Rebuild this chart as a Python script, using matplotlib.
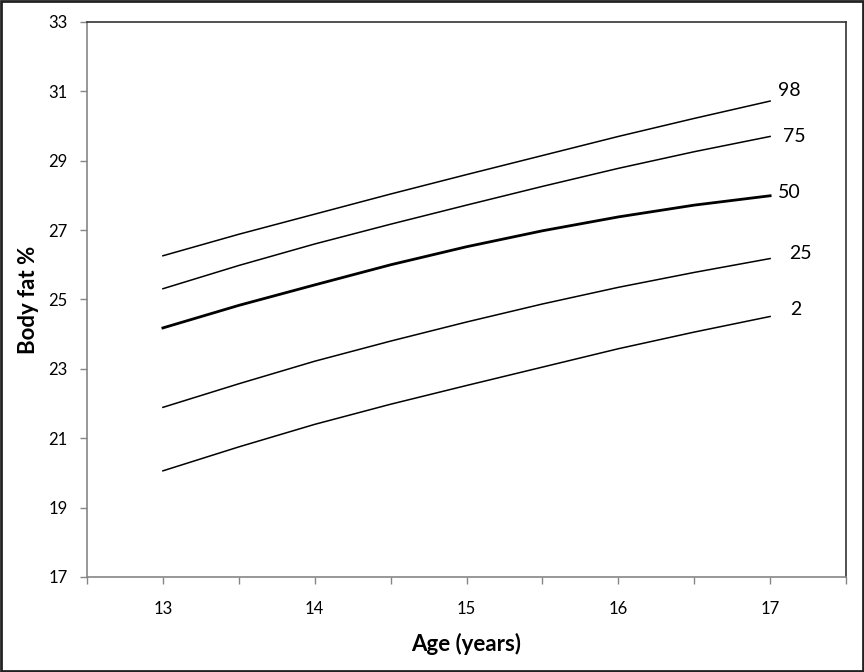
"""
Body fat % centile curves by age (2nd, 25th, 50th, 75th, 98th).
"""

import matplotlib
matplotlib.use("Agg")
import matplotlib.pyplot as plt
from matplotlib.patches import Rectangle

plt.rcParams["font.family"] = ["Lato", "DejaVu Sans"]

# ages (years) and centile curves (body fat %)
ages = [13, 13.5, 14, 14.5, 15, 15.5, 16, 16.5, 17]
p98 = [26.26, 26.88, 27.46, 28.04, 28.60, 29.15, 29.70, 30.22, 30.72]
p75 = [25.31, 25.98, 26.60, 27.17, 27.72, 28.26, 28.78, 29.26, 29.70]
p50 = [24.18, 24.83, 25.42, 26.00, 26.52, 26.98, 27.38, 27.72, 27.99]
p25 = [21.89, 22.57, 23.22, 23.80, 24.35, 24.87, 25.35, 25.78, 26.18]
p2 = [20.06, 20.75, 21.40, 21.98, 22.52, 23.05, 23.58, 24.06, 24.51]

centile_names = ["98", "75", "50", "25", "2"]
x_ticklabels = ["13", "14", "15", "16", "17"]
y_ticks = [17, 19, 21, 23, 25, 27, 29, 31, 33]


def main() -> None:
    fig = plt.figure(figsize=(8.64, 6.72), dpi=100)
    ax = fig.add_axes([0.1007, 0.1414, 0.8785, 0.8259])

    curves = [p98, p75, p50, p25, p2]
    widths = [1.1, 1.1, 2.0, 1.1, 1.1]
    # label offsets from curve end, in pixels
    offsets = [(8, 11), (13, 0), (8, 3), (19, 5), (20, 7)]
    for vals, name, lw, off in zip(curves, centile_names, widths, offsets):
        ax.plot(ages, vals, color="black", linewidth=lw)
        ax.annotate(name, xy=(ages[-1], vals[-1]), xytext=off,
                    textcoords="offset pixels", ha="left", va="center",
                    fontsize=14, color="black")

    ax.set_xlim(12.5, 17.5)
    ax.set_ylim(17, 33)
    ax.set_xticks([12.5, 13, 13.5, 14, 14.5, 15, 15.5, 16, 16.5, 17, 17.5])
    ax.set_xticklabels(["", x_ticklabels[0], "", x_ticklabels[1], "",
                        x_ticklabels[2], "", x_ticklabels[3], "",
                        x_ticklabels[4], ""])
    ax.set_yticks(y_ticks)
    ax.tick_params(axis="x", direction="out", length=5, width=1,
                   color="#868686", pad=12, labelsize=12)
    ax.tick_params(axis="y", direction="out", length=5, width=1,
                   color="#868686", pad=9, labelsize=12)

    for side in ["left", "bottom"]:
        ax.spines[side].set_color("#868686")
        ax.spines[side].set_linewidth(1.2)
    for side in ["top", "right"]:
        ax.spines[side].set_color("#333333")
        ax.spines[side].set_linewidth(1.2)

    ax.set_xlabel("Age (years)", fontsize=16, fontweight="bold", labelpad=12)
    ax.set_ylabel("Body fat %", fontsize=16, fontweight="bold", labelpad=7)

    # outer frame around the whole chart
    fig.patches.append(Rectangle((0.001, 0.0015), 0.998, 0.997,
                                 transform=fig.transFigure, fill=False,
                                 edgecolor="#222222", linewidth=2))

    fig.savefig("out.png", dpi=100)
    plt.close(fig)


if __name__ == "__main__":
    main()
